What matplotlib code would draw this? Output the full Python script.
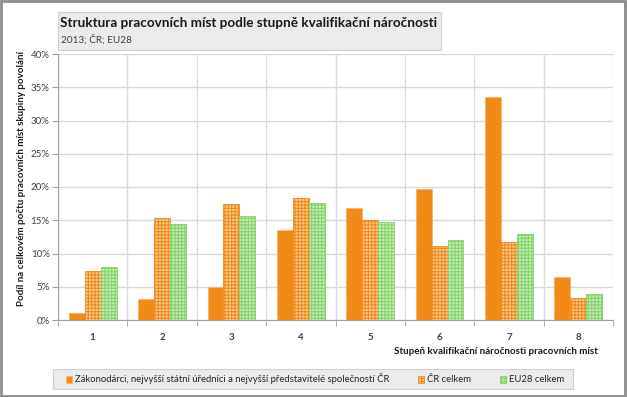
import matplotlib
matplotlib.use("Agg")
import matplotlib.pyplot as plt
from matplotlib.patches import Rectangle
import numpy as np

categories = ["1", "2", "3", "4", "5", "6", "7", "8"]
zakonodarci = [1.0, 3.2, 5.0, 13.5, 16.9, 19.7, 33.5, 6.5]
cr_celkem = [7.4, 15.3, 17.4, 18.4, 15.0, 11.1, 11.8, 3.3]
eu28_celkem = [8.0, 14.5, 15.6, 17.6, 14.8, 12.1, 12.9, 3.9]
series_names = ["Zákonodárci, nejvyšší státní úředníci a nejvyšší představitelé společností ČR",
                "ČR celkem", "EU28 celkem"]
yticks = [0, 5, 10, 15, 20, 25, 30, 35, 40]

plt.rcParams['font.family'] = ['Lato', 'DejaVu Sans']
plt.rcParams['hatch.linewidth'] = 0.8

ORANGE = '#F28A17'
ORANGE_L = '#F9CA98'
GREEN = '#84D36A'
GREEN_L = '#C8EBBA'

fig = plt.figure(figsize=(6.27, 3.97), dpi=100)
W, H = 627, 397
def fx(px): return px / W
def fy(py): return 1 - py / H

# outer border
fig.patches.append(Rectangle((0.002, 0.003), 0.995, 0.994, transform=fig.transFigure,
                             fill=False, edgecolor='#8C8C8C', linewidth=2))

ax = fig.add_axes([fx(58), fy(320), fx(613) - fx(58), fy(54) - fy(320)])
x = np.arange(len(categories))
w = 0.23
ax.bar(x - w, zakonodarci, w, color=ORANGE, edgecolor='#F7B46A', linewidth=0.6, zorder=3,
       label=series_names[0])
ax.bar(x, cr_celkem, w, facecolor=ORANGE_L, edgecolor=ORANGE, hatch='+++++', linewidth=0.6,
       zorder=3, label=series_names[1])
ax.bar(x + w, eu28_celkem, w, facecolor=GREEN_L, edgecolor=GREEN, hatch='+++++', linewidth=0.6,
       zorder=3, label=series_names[2])

ax.set_xlim(-0.5, len(categories) - 0.5)
ax.set_ylim(0, 40)
ax.set_yticks(yticks)
ax.set_yticklabels([f"{t}%" for t in yticks], fontsize=7, color='#404040')
ax.set_xticks(x)
ax.set_xticklabels(categories, fontsize=7, color='#404040', fontweight='bold')
ax.set_xticks(np.arange(-0.5, len(categories), 1.0), minor=True)
ax.tick_params(axis='x', which='major', length=0, pad=9)
ax.tick_params(axis='x', which='minor', length=4, color='#A0A0A0', direction='out')
ax.tick_params(axis='y', length=4, color='#A0A0A0', direction='out', pad=2)
ax.grid(axis='y', which='major', color='#D9D9D9', linewidth=1, zorder=0)
ax.grid(axis='x', which='minor', color='#D9D9D9', linewidth=1, zorder=0)
for s in ['top', 'right']:
    ax.spines[s].set_visible(False)
ax.spines['left'].set_color('#A0A0A0')
ax.spines['bottom'].set_color('#A0A0A0')
ax.set_axisbelow(True)

fig.text(fx(22), fy(178), "Podíl na celkovém počtu pracovních míst skupiny povolání",
         rotation=90, ha='center', va='center', fontsize=7, fontweight='bold', color='#1a1a1a')
fig.text(fx(598), fy(352), "Stupeň kvalifikační náročnosti pracovních míst",
         ha='right', va='center', fontsize=7.1, fontweight='bold', color='#1a1a1a')

# title box
fig.patches.append(Rectangle((fx(58), fy(50)), fx(441) - fx(58), fy(12) - fy(50),
                             transform=fig.transFigure, facecolor='#EBEBEB',
                             edgecolor='#D0D0D0', linewidth=0.8))
fig.text(fx(60), fy(23), "Struktura pracovních míst podle stupně kvalifikační náročnosti",
         ha='left', va='center', fontsize=9.7, fontweight='bold', color='#1a1a1a')
fig.text(fx(61), fy(40), "2013; ČR; EU28", ha='left', va='center', fontsize=7.2, color='#404040')

# legend box
fig.patches.append(Rectangle((fx(53), fy(389)), fx(573) - fx(53), fy(369) - fy(389),
                             transform=fig.transFigure, facecolor='#EBEBEB',
                             edgecolor='#D0D0D0', linewidth=0.8))
handles, labels = ax.get_legend_handles_labels()
leg = fig.legend(handles, labels, loc='center', bbox_to_anchor=(fx(315), fy(379)), ncol=3,
                 frameon=False, fontsize=6.8, handlelength=0.7, handleheight=0.7,
                 handletextpad=0.3, columnspacing=3.0, borderpad=0)
for t in leg.get_texts():
    t.set_color('#262626')

fig.savefig("out.png", dpi=100)
